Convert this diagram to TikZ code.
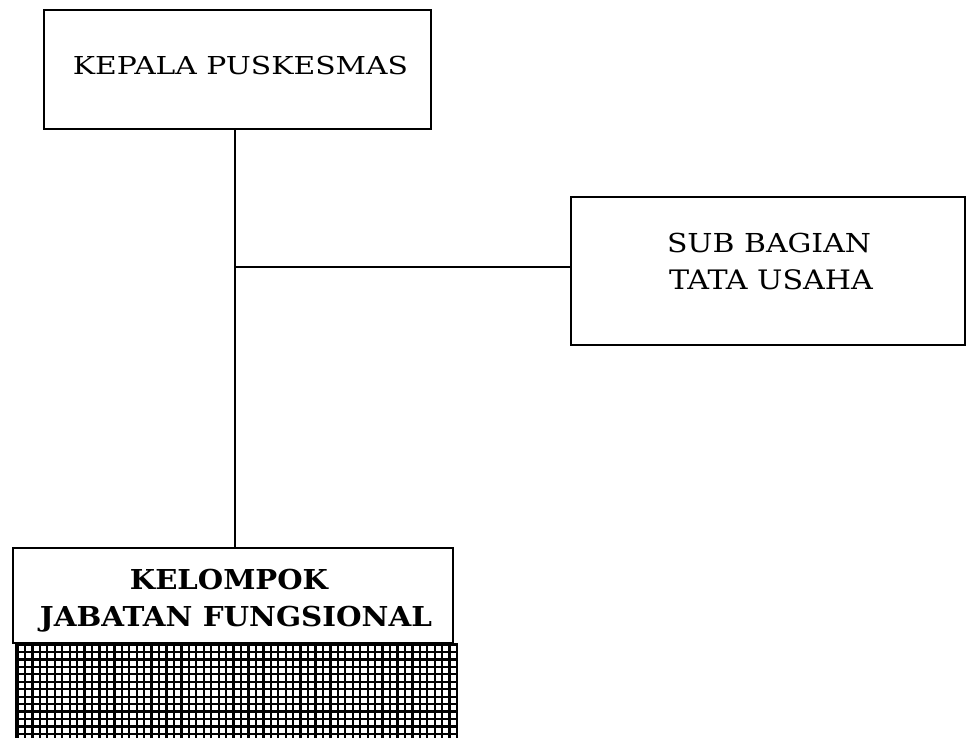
\documentclass[tikz,border=0pt]{standalone}
\usepackage{fontspec}
\setmainfont{DejaVu Serif}
\usepackage{graphicx}
\begin{document}
\begin{tikzpicture}[x=1pt,y=-1pt,
  orgbox/.style={draw=black,line width=1.6pt,rectangle,inner sep=0pt},
  txt/.style={inner sep=0pt,anchor=center},
  link/.style={draw=black,line width=1.3pt}]
\useasboundingbox (0,0) rectangle (969,738);
% boxes
\node[orgbox,minimum width=387pt,minimum height=119pt] (kepala) at (237.5,69.5) {};
\node[orgbox,minimum width=394pt,minimum height=148pt] (sub) at (768,271) {};
\node[orgbox,minimum width=440pt,minimum height=95pt] (kjf) at (233,595.5) {};
% hatched block
\begin{scope}
  \clip (16,643) rectangle (457,738);
  \fill[white] (16,643) rectangle (457,738);
  \foreach \i in {0,...,60} {
    \draw[black,line width=2.3pt] ({17.5+7.45*\i},643) -- ({17.5+7.45*\i},738);
  }
  \foreach \j in {0,...,13} {
    \draw[black,line width=2.3pt] (16,{644.5+7.45*\j}) -- (457,{644.5+7.45*\j});
  }
\end{scope}
\draw[black,line width=1.8pt] (16,643) -- (16,738) (457,643) -- (457,738);
% texts
\node[txt] (t1) at (240.5,66) {\resizebox{335pt}{\height}{\fontsize{24.7pt}{30pt}\selectfont KEPALA PUSKESMAS}};
\node[txt] (t2) at (769,242.5) {\resizebox{204pt}{\height}{\fontsize{26.1pt}{31pt}\selectfont SUB BAGIAN}};
\node[txt] (t3) at (771,280) {\resizebox{204pt}{\height}{\fontsize{26.8pt}{32pt}\selectfont TATA USAHA}};
\node[txt] (t4) at (229,580) {\resizebox{198pt}{\height}{\fontsize{27.4pt}{33pt}\selectfont\bfseries KELOMPOK}};
\node[txt] (t5) at (236,619) {\resizebox{392pt}{\height}{\fontsize{27.4pt}{33pt}\selectfont\bfseries JABATAN FUNGSIONAL}};
% connectors
\coordinate (junction) at (235,267);
\draw[link] (kepala.south -| junction) -- (kjf.north -| junction);
\draw[link] (junction) -- (junction -| sub.west);
\end{tikzpicture}
\end{document}
